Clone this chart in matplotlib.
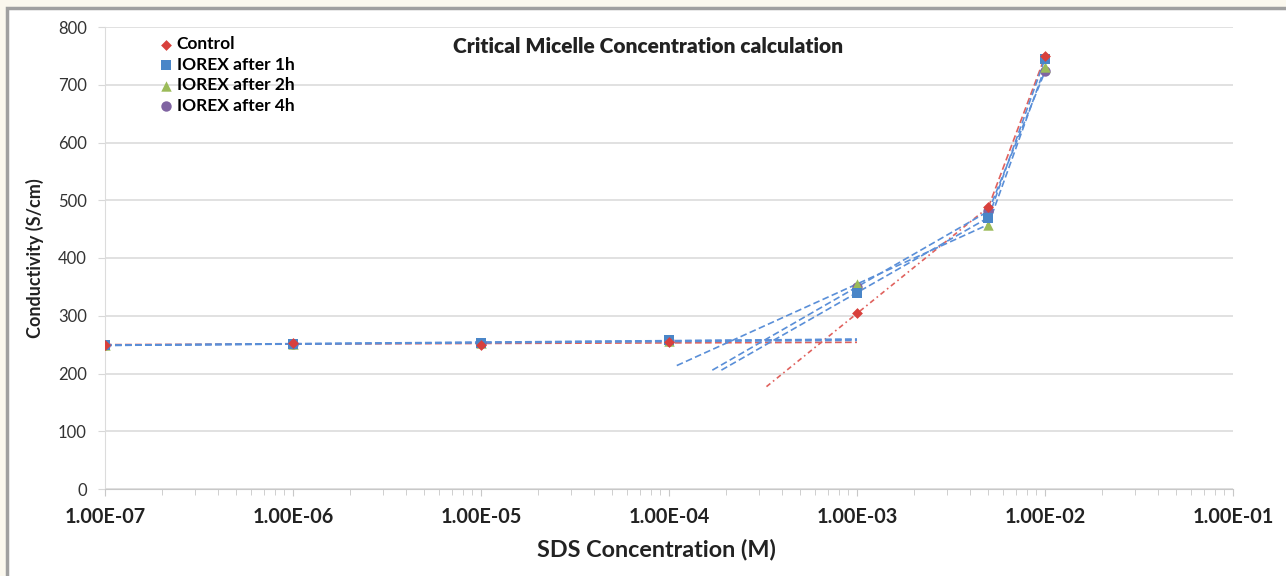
import numpy as np
import matplotlib.pyplot as plt
from matplotlib.patches import Rectangle
from matplotlib.ticker import FixedLocator, LogLocator, NullFormatter

plt.rcParams['font.family'] = ['Lato', 'DejaVu Sans']

# --- data
conc = [1e-7, 1e-6, 1e-5, 1e-4, 1e-3, 5e-3, 1e-2]
series_names = ["Control", "IOREX after 1h", "IOREX after 2h", "IOREX after 4h"]
control = [250, 252, 250, 254, 304, 488, 749]
iorex_1h = [250, 251, 253, 258, 340, 470, 745]
iorex_2h = [249, 251, 252, 256, 355, 458, 730]
iorex_4h = [249, 251, 253, 257, 350, 481, 723]
# where the backward-extended mid-range trendlines start
mid_start = [3.3e-4, 1.9e-4, 1.1e-4, 1.7e-4]

values = [control, iorex_1h, iorex_2h, iorex_4h]
markers = ["D", "s", "^", "o"]
msizes = [5.5, 7.5, 7.5, 7.5]
colors = ["#d8403c", "#4a86c8", "#9bbb59", "#8064a2"]
trend_colors = ["#e0625e", "#5a8fd8", "#5a8fd8", "#5a8fd8"]

fig = plt.figure(figsize=(12.86, 5.76), dpi=100)
fig.patch.set_facecolor("#fbf8ee")
# chart area box
fig.patches.append(Rectangle((7 / 1286, -0.05), 1.1, 1 - 8 / 576 + 0.05,
                             transform=fig.transFigure, facecolor="white",
                             edgecolor="#a0a0a0", linewidth=2.5, zorder=-10))

ax = fig.add_axes([105 / 1286, 1 - 489 / 576, 1128 / 1286, 462 / 576])
ax.set_facecolor("white")
ax.set_xscale("log")
ax.set_xlim(1e-7, 1e-1)
ax.set_ylim(0, 800)

lx = np.log10(conc)
for i, vals in enumerate(values):
    y = np.array(vals, dtype=float)
    tc = trend_colors[i]
    # pre-CMC linear fit (in log x)
    p = np.polyfit(lx[:4], y[:4], 1)
    xs = np.array([-7.0, -3.0])
    ax.plot(10.0 ** xs, np.polyval(p, xs), color=tc, ls=(0, (4, 2)), lw=1.2, zorder=2)
    # mid-range line through 1e-3 and 5e-3, extended back
    p2 = np.polyfit(lx[4:6], y[4:6], 1)
    xs2 = np.array([np.log10(mid_start[i]), lx[5]])
    ls_mid = (0, (3, 2, 1, 2)) if i == 0 else (0, (4, 2))
    ax.plot(10.0 ** xs2, np.polyval(p2, xs2), color=tc, ls=ls_mid, lw=1.2, zorder=2)
    # top segment
    ax.plot(conc[5:], y[5:], color=tc, ls=(0, (4, 2)), lw=1.2, zorder=2)

for i, vals in enumerate(values):
    ax.scatter(conc, vals, marker=markers[i], s=msizes[i] ** 2, color=colors[i],
               label=series_names[i], zorder=3 + (3 - i) * 0.1, linewidths=0)

ax.yaxis.set_major_locator(FixedLocator(np.arange(0, 801, 100)))
ax.xaxis.set_minor_locator(LogLocator(base=10, subs=np.arange(2, 10), numticks=20))
ax.xaxis.set_minor_formatter(NullFormatter())
ax.set_xticks([1e-7, 1e-6, 1e-5, 1e-4, 1e-3, 1e-2, 1e-1])
ax.set_xticklabels(["1.00E-07", "1.00E-06", "1.00E-05", "1.00E-04",
                    "1.00E-03", "1.00E-02", "1.00E-01"],
                   fontsize=14.3, fontweight="bold", color="#222222")
ax.tick_params(axis="x", which="major", length=5, color="#c8c8c8", pad=8)
ax.tick_params(axis="x", which="minor", length=4, color="#c8c8c8")
ax.tick_params(axis="y", length=5, color="#d8d8d8", labelsize=12, labelcolor="#333333", pad=8)

ax.grid(axis="y", color="#dcdcdc", lw=1.2, zorder=0)
for s in ["top", "right"]:
    ax.spines[s].set_visible(False)
ax.spines["left"].set_color("#dcdcdc")
ax.spines["bottom"].set_color("#c8c8c8")

ax.set_xlabel("SDS Concentration (M)", fontsize=16.8, fontweight="bold", color="#222222",
              va="center")
ax.xaxis.set_label_coords(0.4885, -0.132)
ax.set_ylabel("Conductivity (S/cm)", fontsize=13, fontweight="bold", color="#222222", labelpad=10)
ax.text(0.481, 0.957, "Critical Micelle Concentration calculation", transform=ax.transAxes,
        ha="center", va="center", fontsize=15, fontweight="heavy", color="#222222")

leg = ax.legend(loc="upper left", bbox_to_anchor=(0.039, 0.995), frameon=False,
                prop={"weight": "bold", "size": 12.5}, handletextpad=0.0,
                labelspacing=0.26, borderaxespad=0, handlelength=1.2)

fig.savefig("out.png", dpi=100, facecolor=fig.get_facecolor())
